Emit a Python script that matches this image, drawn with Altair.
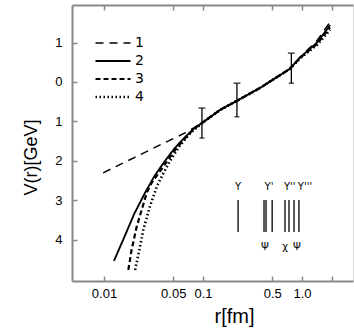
import altair as alt
import pandas as pd

# ---- data ----
r_upper = [0.1, 0.148, 0.226, 0.376, 0.75, 0.955, 1.42, 1.92]
v_upper_1 = [-1.02, -0.71, -0.46, -0.15, 0.33, 0.63, 1.05, 1.52]
v_upper_2 = [-1.02, -0.71, -0.46, -0.15, 0.33, 0.62, 1.00, 1.44]
v_upper_3 = [-1.02, -0.71, -0.46, -0.15, 0.33, 0.61, 0.97, 1.38]
v_upper_4 = [-1.02, -0.71, -0.46, -0.15, 0.33, 0.60, 0.94, 1.32]

r1 = [0.0098, 0.02, 0.04, 0.066, 0.081]
v1 = [-2.30, -1.92, -1.55, -1.29, -1.16]
r2 = [0.0126, 0.0159, 0.0201, 0.0254, 0.0320, 0.0404, 0.0509, 0.0643, 0.0811]
v2 = [-4.53, -3.95, -3.35, -2.85, -2.40, -2.03, -1.70, -1.42, -1.18]
r3 = [0.0176, 0.0190, 0.0214, 0.0240, 0.0270, 0.0303, 0.0368, 0.0464, 0.058, 0.0811]
v3 = [-4.76, -4.25, -3.66, -3.24, -2.81, -2.55, -2.26, -1.90, -1.58, -1.18]
r4 = [0.0206, 0.0231, 0.0249, 0.0291, 0.0341, 0.0385, 0.0464, 0.058, 0.074]
v4 = [-4.76, -4.17, -3.75, -3.15, -2.65, -2.38, -2.00, -1.62, -1.30]

err_r = [0.0975, 0.22, 0.78]
err_lo = [-1.42, -0.88, -0.03]
err_hi = [-0.66, -0.03, 0.73]

spec_r = [0.226, 0.413, 0.433, 0.499, 0.673, 0.738, 0.83, 0.93]
spec_lo = -3.80
spec_hi = -2.99

lab_top_r = [0.226, 0.464, 0.75, 1.07]
lab_top_t = ["Υ", "Υ'", "Υ''", "Υ'''"]
lab_top_v = -2.66
lab_bot_r = [0.423, 0.673, 0.89]
lab_bot_t = ["Ψ", "χ", "Ψ"]
lab_bot_v = -4.18

x_ticks = [0.01, 0.05, 0.1, 0.5, 1.0, 2.0]
y_ticks = [-4, -3, -2, -1, 0, 1]
series_names = ["1", "2", "3", "4"]

# ---- tables ----
rows = []
for name, rr, vv, vu in [("1", r1, v1, v_upper_1), ("2", r2, v2, v_upper_2),
                         ("3", r3, v3, v_upper_3), ("4", r4, v4, v_upper_4)]:
    allr = rr + r_upper
    allv = vv + vu
    for i, (a, b) in enumerate(zip(allr, allv)):
        rows.append({"series": name, "r": a, "V": b, "o": i})
curves = pd.DataFrame(rows)
errs = pd.DataFrame({"r": err_r, "lo": err_lo, "hi": err_hi})
spec = pd.DataFrame({"r": spec_r, "lo": [spec_lo] * len(spec_r), "hi": [spec_hi] * len(spec_r)})
labels = pd.DataFrame({"r": lab_top_r + lab_bot_r,
                       "V": [lab_top_v] * len(lab_top_r) + [lab_bot_v] * len(lab_bot_r),
                       "t": lab_top_t + lab_bot_t})

FONT = "DejaVu Sans"
xscale = alt.Scale(type="log", domain=[0.00475, 3.27], nice=False)
yscale = alt.Scale(domain=[-5.04, 1.95], nice=False, zero=False)

xlabel_expr = "datum.value >= 2 ? '' : (datum.value == 1 ? '1.0' : format(datum.value, '~g'))"

ax_main_x = alt.Axis(orient="bottom", values=x_ticks, labelExpr=xlabel_expr, ticks=False, tickSize=0,
                     domainWidth=2, labelPadding=6, labelFontSize=13, title="r[fm]",
                     titleFontSize=20, titlePadding=6, titleFontWeight="normal",
                     titleX=162, titleAlign="center", grid=False)
ax_main_y = alt.Axis(orient="left", values=y_ticks, labelExpr="format(abs(datum.value), 'd')",
                     ticks=False, tickSize=0, domainWidth=2, labelPadding=10, labelFontSize=13,
                     title="V(r)[GeV]", titleFontSize=18, titlePadding=14, titleFontWeight="normal",
                     titleY=152, titleAlign="center", grid=False)
ax_tick_x = alt.Axis(orient="bottom", values=x_ticks, offset=-5, tickSize=5, tickWidth=1.5,
                     domain=False, labels=False, title=None, grid=False)
ax_tick_y = alt.Axis(orient="left", values=y_ticks, offset=-5, tickSize=5, tickWidth=1.5,
                     domain=False, labels=False, title=None, grid=False)
ax_top_dom = alt.Axis(orient="top", ticks=False, labels=False, domainWidth=2, title=None, grid=False)
ax_top_tick = alt.Axis(orient="top", values=x_ticks, offset=-5, tickSize=5, tickWidth=1.5,
                       domain=False, labels=False, title=None, grid=False)

legend = alt.Legend(orient="none", legendX=22, legendY=31, title=None, symbolType="stroke",
                    symbolSize=1225, clipHeight=14, labelFontSize=14, labelFont=FONT, rowPadding=4,
                    symbolStrokeColor="black", labelOffset=3)

lines = alt.Chart(curves).mark_line(color="black").encode(
    x=alt.X("r:Q", scale=xscale, axis=ax_main_x),
    y=alt.Y("V:Q", scale=yscale, axis=ax_main_y),
    strokeDash=alt.StrokeDash("series:N", scale=alt.Scale(domain=series_names,
                              range=[[8, 6], [1, 0], [5, 3], [1.5, 2.5]]), legend=legend),
    strokeWidth=alt.StrokeWidth("series:N", scale=alt.Scale(domain=series_names,
                                range=[1.5, 2.6, 1.5, 1.5]), legend=legend),
    order="o:Q",
)

err_rules = alt.Chart(errs).mark_rule(color="black", strokeWidth=1.3).encode(
    x=alt.X("r:Q", scale=xscale, axis=ax_tick_x),
    y=alt.Y("lo:Q", scale=yscale, axis=ax_tick_y),
    y2="hi:Q",
)
err_caps = alt.Chart(errs).mark_tick(color="black", orient="horizontal", size=7, thickness=1.5).encode(
    x=alt.X("r:Q", scale=xscale, axis=ax_top_dom),
    y=alt.Y("hi:Q", scale=yscale, axis=None),
)
err_caps2 = alt.Chart(errs).mark_tick(color="black", orient="horizontal", size=5, thickness=1.5).encode(
    x=alt.X("r:Q", scale=xscale, axis=None),
    y=alt.Y("lo:Q", scale=yscale, axis=None),
)
spec_rules = alt.Chart(spec).mark_rule(color="black", strokeWidth=1.3).encode(
    x=alt.X("r:Q", scale=xscale, axis=ax_top_tick),
    y=alt.Y("lo:Q", scale=yscale, axis=None),
    y2="hi:Q",
)
texts = alt.Chart(labels).mark_text(font=FONT, fontSize=10, color="black").encode(
    x=alt.X("r:Q", scale=xscale, axis=None),
    y=alt.Y("V:Q", scale=yscale, axis=None),
    text="t:N",
)

chart = alt.layer(lines, err_rules, err_caps, err_caps2, spec_rules, texts).resolve_axis(
    x="independent", y="independent"
).properties(
    width=281, height=276,
    autosize=alt.AutoSizeParams(type="none"),
    padding={"left": 72, "top": 5, "right": 1, "bottom": 55},
).configure_view(stroke=None).configure_axis(
    labelFont=FONT, titleFont=FONT, labelColor="black", titleColor="black",
    domainColor="black", tickColor="black", titleFontWeight="normal",
).configure(background="white")

chart.save("out.html", embed_options={"renderer": "svg", "actions": False})
